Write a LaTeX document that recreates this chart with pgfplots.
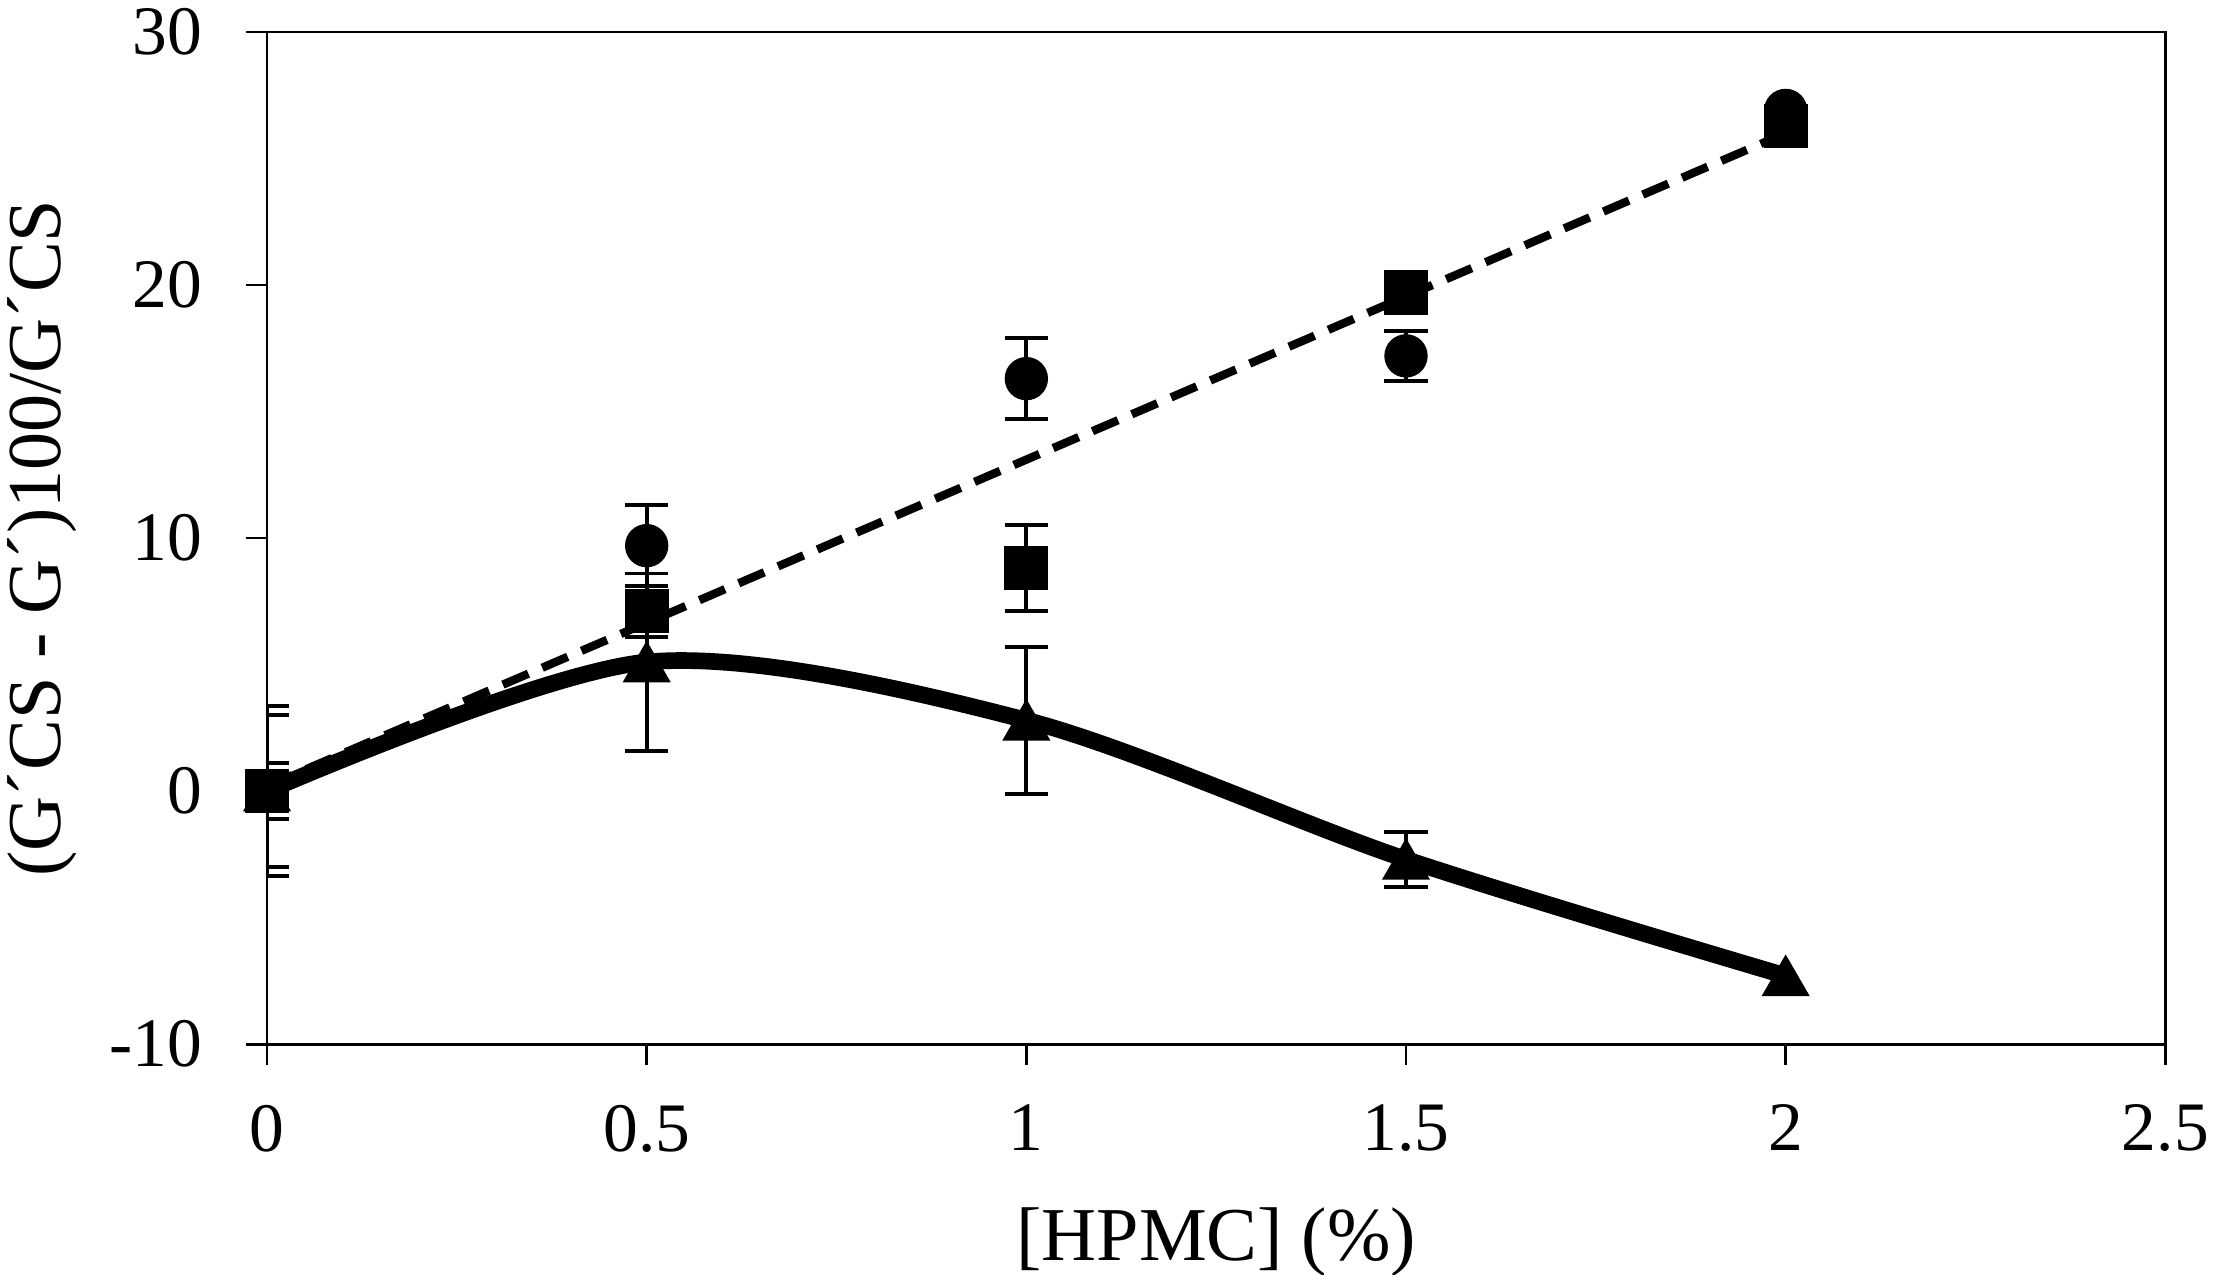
\documentclass[border=0pt]{standalone}
\usepackage{fontspec}
\setmainfont{Liberation Serif}
\usepackage{pgfplots}
\pgfplotsset{compat=1.18}
\usepackage{pgfplotstable}

\pgfplotstableread{
x y e
0 0 3.0
0.5 9.7 1.6
1 16.3 1.6
1.5 17.2 1.0
2 26.9 0
}\circdata
\pgfplotstableread{
x y e
0 0 1.1
0.5 7.1 1.0
1 8.8 1.7
1.5 19.7 0.8
2 26.3 0
}\sqdata
\pgfplotstableread{
x y e
0 0 3.35
0.5 5.1 3.5
1 2.8 2.9
1.5 -2.7 1.1
2 -7.3 0
}\tridata
\pgfplotstableread{
x y
0 0.2
2 26.0
}\fitdata

\begin{document}
\begin{tikzpicture}
\begin{axis}[
  name=ax,
  scale only axis,
  width=341.64pt, height=182.16pt,
  xmin=0, xmax=2.5, ymin=-10, ymax=30,
  xtick={0,0.5,1,1.5,2,2.5},
  xticklabels={0,0.5,1,1.5,2,2.5},
  ytick={-10,0,10,20,30},
  yticklabels={-10,0,10,20,30},
  tick align=outside, tick pos=left,
  major tick length=3.8pt,
  axis line style={line width=0.5pt, black},
  every tick/.style={black, line width=0.5pt},
  ticklabel style={font=\fontsize{12.5}{14}\selectfont},
  xticklabel style={yshift=-3.6pt},
  yticklabel style={xshift=-4.3pt},
  label style={font=\fontsize{13.7}{16}\selectfont},
  xlabel={[HPMC] (\%)},
  ylabel={(G´CS - G´)100/G´CS},
  xlabel style={at={(axis description cs:0.5,0)}, anchor=center, yshift=-35.6pt},
  ylabel style={at={(axis description cs:-0.1186,0.5)}, anchor=center},
  error bars/error bar style={line width=0.7pt, black, solid},
  error bars/error mark options={rotate=90, line width=0.7pt, mark size=3.9pt, black, solid},
]
\addplot[black, line width=3pt, smooth, no marks] table[x=x, y=y] {\tridata};
\addplot[black, line width=1.5pt, dash pattern=on 5pt off 2.7pt, no marks] table[x=x, y=y] {\fitdata};
% points with error bars (x = 0 ... 1.5)
\addplot[only marks, mark=*, mark size=3.7pt, black, fill=black,
  skip coords between index={4}{5},
  error bars/.cd, y dir=both, y explicit] table[x=x, y=y, y error=e] {\circdata};
\addplot[only marks, mark=triangle*, mark size=4.6pt, black, fill=black,
  mark options={yshift=-1.15pt},
  skip coords between index={4}{5},
  error bars/.cd, y dir=both, y explicit] table[x=x, y=y, y error=e] {\tridata};
\addplot[only marks, mark=square*, mark size=3.75pt, black, fill=black,
  skip coords between index={4}{5},
  error bars/.cd, y dir=both, y explicit] table[x=x, y=y, y error=e] {\sqdata};
% points at x = 2 (no error bars)
\addplot[only marks, mark=*, mark size=3.7pt, black, fill=black,
  skip coords between index={0}{4}] table[x=x, y=y] {\circdata};
\addplot[only marks, mark=triangle*, mark size=4.6pt, black, fill=black,
  mark options={yshift=-1.15pt},
  skip coords between index={0}{4}] table[x=x, y=y] {\tridata};
\addplot[only marks, mark=square*, mark size=3.75pt, black, fill=black,
  skip coords between index={0}{4}] table[x=x, y=y] {\sqdata};
\end{axis}
\pgfresetboundingbox
\path[use as bounding box] ([xshift=-48.06pt,yshift=-41.4pt]ax.south west) rectangle ([xshift=350.94pt,yshift=187.92pt]ax.south west);
\end{tikzpicture}
\end{document}
